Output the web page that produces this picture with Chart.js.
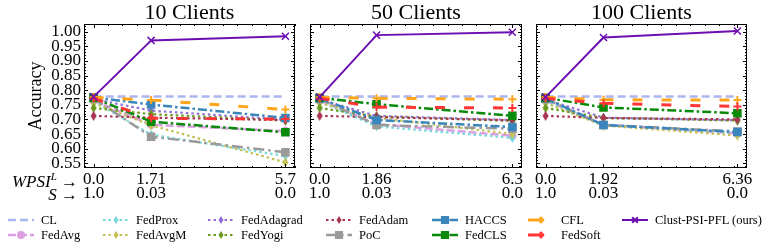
<!DOCTYPE html>
<html>
<head>
<meta charset="utf-8">
<script src="https://cdn.jsdelivr.net/npm/chart.js@4.4.0/dist/chart.umd.min.js"></script>
<style>
  body { margin: 0; background: #fff; }
  #wrap { position: relative; width: 773px; height: 250px; font-family: "Liberation Serif", serif; color: #000; }
  canvas.panel { position: absolute; top: 0; }
  .rowlab { position: absolute; left: 0; width: 78px; text-align: right; font-size: 17px; line-height: 17px; font-style: italic; white-space: nowrap; }
  .rowlab sup { font-size: 11px; line-height: 0; }
  .leg { position: absolute; height: 14px; display: flex; align-items: center; font-size: 12.5px; white-space: nowrap; }
  .leg canvas { margin-right: 7px; }
</style>
</head>
<body>
<div id="wrap">
  <canvas id="c10" class="panel" style="left:0px" width="310" height="205"></canvas>
  <canvas id="c50" class="panel" style="left:296px" width="241" height="205"></canvas>
  <canvas id="c100" class="panel" style="left:522px" width="240" height="205"></canvas>
  <div class="rowlab" style="top:173px">WPSI<sup>L</sup> <span style="font-style:normal">&rarr;</span></div>
  <div class="rowlab" style="top:186px">S <span style="font-style:normal">&rarr;</span></div>
  <div id="legend"></div>
</div>
<script>
// dados
const methods = ["CL", "FedAvg", "FedProx", "FedAvgM", "FedAdagrad", "FedYogi", "FedAdam",
  "PoC", "HACCS", "FedCLS", "CFL", "FedSoft", "Clust-PSI-PFL (ours)"];

const wpsi10 = [0, 1.71, 5.7];
const wpsi50 = [0, 1.86, 6.3];
const wpsi100 = [0, 1.92, 6.36];
const wpsiLabels10 = ["0.0", "1.71", "5.7"];
const wpsiLabels50 = ["0.0", "1.86", "6.3"];
const wpsiLabels100 = ["0.0", "1.92", "6.36"];
const sLabels = ["1.0", "0.03", "0.0"];

// accuracy per method (same order as methods)
const acc10 = [
  [0.778, 0.778, 0.778],
  [0.765, 0.682, 0.660],
  [0.762, 0.648, 0.575],
  [0.756, 0.680, 0.553],
  [0.770, 0.730, 0.699],
  [0.739, 0.718, 0.696],
  [0.712, 0.706, 0.698],
  [0.772, 0.641, 0.588],
  [0.775, 0.751, 0.705],
  [0.774, 0.692, 0.656],
  [0.776, 0.766, 0.734],
  [0.772, 0.704, 0.701],
  [0.777, 0.970, 0.984],
];
const acc50 = [
  [0.778, 0.778, 0.778],
  [0.765, 0.684, 0.644],
  [0.762, 0.676, 0.637],
  [0.756, 0.706, 0.650],
  [0.768, 0.712, 0.698],
  [0.739, 0.710, 0.695],
  [0.712, 0.708, 0.697],
  [0.770, 0.681, 0.668],
  [0.772, 0.698, 0.674],
  [0.774, 0.752, 0.712],
  [0.776, 0.772, 0.769],
  [0.772, 0.742, 0.739],
  [0.776, 0.988, 0.998],
];
const acc100 = [
  [0.778, 0.778, 0.778],
  [0.765, 0.682, 0.652],
  [0.762, 0.680, 0.655],
  [0.756, 0.679, 0.645],
  [0.768, 0.706, 0.697],
  [0.739, 0.705, 0.696],
  [0.712, 0.705, 0.700],
  [0.770, 0.681, 0.659],
  [0.772, 0.681, 0.657],
  [0.774, 0.741, 0.721],
  [0.776, 0.767, 0.766],
  [0.772, 0.755, 0.744],
  [0.776, 0.980, 1.002],
];

// estilos
const looks = [
  { color: "#aab6f0", dash: [8, 4], width: 2.5, marker: null },
  { color: "#dc9fe2", dash: [8, 3], width: 2.5, marker: "circle", r: 3.5 },
  { color: "#74d8d8", dash: [2.5, 3], width: 2.2, marker: "thin" },
  { color: "#c2c052", dash: [2.5, 3], width: 2.2, marker: "thin" },
  { color: "#9370d8", dash: [2.5, 3], width: 2.2, marker: "thin" },
  { color: "#6a9a1f", dash: [2.5, 3], width: 2.2, marker: "thin" },
  { color: "#a93550", dash: [2.5, 3], width: 2.2, marker: "thin" },
  { color: "#9a9a9a", dash: [11, 4, 2.5, 4], width: 2.5, marker: "rect", r: 5 },
  { color: "#3a86bc", dash: [9, 3, 2.5, 3], width: 2.5, marker: "rect", r: 5 },
  { color: "#0a8a0a", dash: [9, 3, 2.5, 3], width: 2.5, marker: "rect", r: 5 },
  { color: "#ffa51c", dash: [10, 19], width: 3, marker: "cross", r: 4 },
  { color: "#ff3434", dash: [10, 19], width: 3, marker: "cross", r: 4 },
  { color: "#6c0fb2", dash: [], width: 2, marker: "crossRot", r: 5 },
];

const serif = "'Liberation Serif', serif";

function thinDiamond(color, h) {
  const c = document.createElement("canvas");
  c.width = Math.round(h * 0.7); c.height = h;
  const g = c.getContext("2d");
  g.fillStyle = color;
  g.beginPath();
  g.moveTo(c.width / 2, 0); g.lineTo(c.width - 0.5, h / 2);
  g.lineTo(c.width / 2, h); g.lineTo(0.5, h / 2);
  g.closePath();
  g.fill();
  return c;
}

function markerStyle(st, h) {
  if (!st.marker) return false;
  if (st.marker === "thin") return thinDiamond(st.color, h || 10);
  return st.marker;
}

function buildDatasets(acc, xs) {
  return methods.map((m, i) => {
    const st = looks[i];
    return {
      label: m,
      data: xs.map((x, j) => ({ x: x, y: acc[i][j] })),
      borderColor: st.color,
      backgroundColor: st.color,
      borderWidth: st.width,
      borderDash: st.dash,
      pointStyle: markerStyle(st),
      pointRadius: st.marker ? (st.r || 4) : 0,
      pointBorderWidth: st.marker === "cross" ? 2 : 1.5,
      pointBackgroundColor: st.color,
      pointBorderColor: st.color,
      tension: 0,
      fill: false,
      clip: false,
      order: methods.length - i,
    };
  });
}

// moldura com ticks para dentro
const frameTicks = {
  id: "frameTicks",
  afterDatasetsDraw(chart) {
    const { ctx, chartArea: a, scales } = chart;
    const x = scales.x, y = scales.y;
    ctx.save();
    ctx.strokeStyle = "#000";
    ctx.lineWidth = 1;
    ctx.setLineDash([]);
    ctx.strokeRect(a.left + 0.5, a.top + 0.5, a.right - a.left - 1, a.bottom - a.top - 1);
    ctx.beginPath();
    // y
    const yMaj = y.ticks.map(t => t.value);
    for (let v = 0.53; v <= y.max + 1e-9; v += 0.01) {
      if (v < y.min) continue;
      const isMaj = yMaj.some(m => Math.abs(m - v) < 1e-6);
      const len = isMaj ? 4 : 2;
      const py = Math.round(y.getPixelForValue(v)) + 0.5;
      ctx.moveTo(a.left, py); ctx.lineTo(a.left + len, py);
      ctx.moveTo(a.right, py); ctx.lineTo(a.right - len, py);
    }
    // x
    const xMaj = x.ticks.map(t => t.value);
    const minorStep = (xMaj[1] - xMaj[0]) / 4;
    for (let k = Math.ceil(x.min / minorStep); k * minorStep <= x.max; k++) {
      const v = k * minorStep;
      const isMaj = xMaj.some(m => Math.abs(m - v) < 1e-6);
      if (isMaj) continue;
      const px = Math.round(x.getPixelForValue(v)) + 0.5;
      ctx.moveTo(px, a.bottom); ctx.lineTo(px, a.bottom - 2);
      ctx.moveTo(px, a.top); ctx.lineTo(px, a.top + 2);
    }
    xMaj.forEach(v => {
      const px = Math.round(x.getPixelForValue(v)) + 0.5;
      ctx.moveTo(px, a.bottom); ctx.lineTo(px, a.bottom - 4);
      ctx.moveTo(px, a.top); ctx.lineTo(px, a.top + 4);
    });
    ctx.stroke();
    ctx.restore();
  },
};

function makePanel(id, title, xs, labels, acc, showY, yWidth) {
  const span = xs[xs.length - 1] - xs[0];
  new Chart(document.getElementById(id), {
    type: "line",
    data: { datasets: buildDatasets(acc, xs) },
    options: {
      responsive: false,
      animation: false,
      events: [],
      layout: { padding: { left: 0, right: 15, top: 0, bottom: 0 } },
      plugins: {
        legend: { display: false },
        tooltip: { enabled: false },
        title: {
          display: true,
          text: title,
          fullSize: false,
          color: "#000",
          font: { family: serif, size: 22, weight: "normal", lineHeight: 1 },
          padding: { top: 2, bottom: 0 },
        },
      },
      scales: {
        x: {
          type: "linear",
          min: xs[0] - span * 0.05,
          max: xs[xs.length - 1] + span * 0.05,
          grid: { display: false, drawTicks: false },
          border: { display: false },
          afterBuildTicks: (s) => { s.ticks = xs.map(v => ({ value: v })); },
          afterFit: (s) => { s.height = 37; },
          ticks: {
            color: "#000",
            padding: 5,
            maxRotation: 0,
            autoSkip: false,
            font: { family: serif, size: 17, lineHeight: 0.8 },
            callback: (v, i) => [labels[i], sLabels[i]],
          },
        },
        y: {
          min: 0.534,
          max: 1.026,
          grid: { display: false, drawTicks: false },
          border: { display: false },
          afterFit: (s) => { s.width = yWidth; },
          ticks: {
            stepSize: 0.05,
            includeBounds: false,
            autoSkip: false,
            color: "#000",
            padding: 3,
            font: { family: serif, size: 17, lineHeight: 0.85 },
            callback: (v) => (showY ? Number(v).toFixed(2) : ""),
          },
          title: {
            display: showY,
            text: "Accuracy",
            color: "#000",
            font: { family: serif, size: 18, lineHeight: 1 },
            padding: { top: 27, bottom: 0 },
          },
        },
      },
    },
    plugins: [frameTicks],
  });
}

makePanel("c10", "10 Clients", wpsi10, wpsiLabels10, acc10, true, 84);
makePanel("c50", "50 Clients", wpsi50, wpsiLabels50, acc50, false, 14);
makePanel("c100", "100 Clients", wpsi100, wpsiLabels100, acc100, false, 14);

// legenda (colunas)
const legendCols = [8, 103, 208, 326, 432, 528, 622];
const legendRows = [220, 235];
const legendBox = document.getElementById("legend");
methods.forEach((m, i) => {
  const st = looks[i];
  const item = document.createElement("div");
  item.className = "leg";
  item.style.left = legendCols[Math.floor(i / 2)] + "px";
  item.style.top = (legendRows[i % 2] - 7) + "px";
  const cv = document.createElement("canvas");
  cv.width = 26; cv.height = 14;
  const g = cv.getContext("2d");
  g.strokeStyle = st.color;
  g.fillStyle = st.color;
  g.lineWidth = st.width;
  g.setLineDash(st.dash);
  g.beginPath();
  g.moveTo(0, 7); g.lineTo(26, 7);
  g.stroke();
  g.setLineDash([]);
  if (st.marker) {
    Chart.helpers.drawPoint(g, {
      pointStyle: markerStyle(st, 8),
      radius: (st.r || 4) * 0.8,
      rotation: 0,
      borderWidth: st.marker === "cross" ? 2 : 1.5,
    }, 13, 7);
  }
  const txt = document.createElement("span");
  txt.textContent = m;
  item.appendChild(cv);
  item.appendChild(txt);
  legendBox.appendChild(item);
});
</script>
</body>
</html>
